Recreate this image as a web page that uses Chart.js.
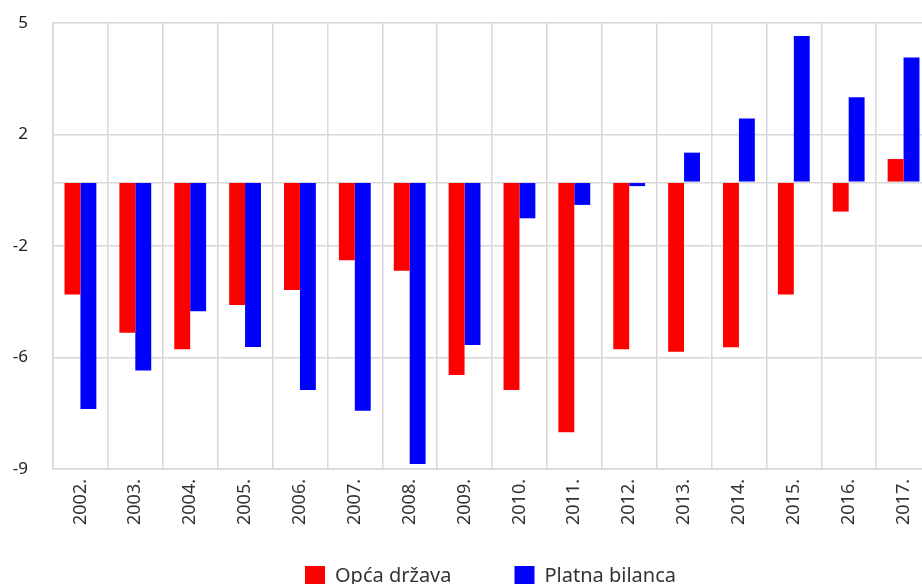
<!DOCTYPE html>
<html>
<head>
<meta charset="utf-8">
<script src="https://cdn.jsdelivr.net/npm/chart.js@4/dist/chart.umd.min.js"></script>
<style>
  html, body { margin: 0; padding: 0; background: #fff; overflow: hidden; }
  #wrap { position: absolute; left: 0; top: 0; width: 940px; height: 649px; }
</style>
</head>
<body>
<div id="wrap"><canvas id="c" width="940" height="649"></canvas></div>
<script>
const categories = ['2002.', '2003.', '2004.', '2005.', '2006.', '2007.', '2008.', '2009.',
                    '2010.', '2011.', '2012.', '2013.', '2014.', '2015.', '2016.', '2017.'];
const opcaDrzava = [-3.52, -4.72, -5.24, -3.85, -3.38, -2.45, -2.78, -6.05,
                    -6.52, -7.85, -5.24, -5.32, -5.18, -3.52, -0.92, 0.73];
const platnaBilanca = [-7.12, -5.91, -4.05, -5.17, -6.52, -7.17, -8.84, -5.11,
                       -1.13, -0.71, -0.12, 0.93, 2.0, 4.59, 2.67, 3.92];
const seriesNames = ['Opća država', 'Platna bilanca'];
const yTickValues = [5, 1.5, 0, -2, -5.5, -9];
const yMin = -9, yMax = 5;

const FONT = '"Noto Sans", "DejaVu Sans", sans-serif';
const GRID = '#d8d8d8';

const legendShift = {
  id: 'legendShift',
  afterUpdate(chart) {
    const lg = chart.legend;
    if (lg) {
      lg.left += 25;
      lg.right += 25;
      lg.top -= 53;
      lg.bottom -= 53;
    }
  }
};

new Chart(document.getElementById('c'), {
  type: 'bar',
  data: {
    labels: categories,
    datasets: [
      { label: seriesNames[0], data: opcaDrzava, backgroundColor: '#ff0000', borderWidth: 0,
        categoryPercentage: 0.58, barPercentage: 1.0 },
      { label: seriesNames[1], data: platnaBilanca, backgroundColor: '#0000ff', borderWidth: 0,
        categoryPercentage: 0.58, barPercentage: 1.0 }
    ]
  },
  plugins: [legendShift],
  options: {
    responsive: false,
    animation: false,
    layout: { padding: { top: 23, right: 9, bottom: 0, left: 0 } },
    plugins: {
      title: { display: false },
      tooltip: { enabled: false },
      legend: {
        position: 'bottom',
        labels: {
          boxWidth: 20, boxHeight: 20, padding: 63,
          color: '#333', font: { family: FONT, size: 20 }
        }
      }
    },
    scales: {
      x: {
        grid: { color: GRID, lineWidth: 1.5, drawTicks: false, offset: true },
        border: { color: GRID, width: 1.5 },
        ticks: {
          color: '#333', font: { family: FONT, size: 18 },
          minRotation: 90, maxRotation: 90, padding: 10, autoSkip: false
        },
        afterFit: s => { s.height = 87; }
      },
      y: {
        min: yMin, max: yMax,
        grid: { color: GRID, lineWidth: 1.5, drawTicks: true, tickLength: 25, tickColor: 'rgba(0,0,0,0)' },
        border: { color: GRID, width: 1.5 },
        afterBuildTicks: s => { s.ticks = yTickValues.map(v => ({ value: v })); },
        afterFit: s => { s.width = 53; },
        ticks: {
          color: '#222', font: { family: FONT, size: 17 }, padding: 0,
          callback: v => (v === 0 ? '' : Number(v).toFixed(0))
        }
      }
    }
  }
});
</script>
</body>
</html>
